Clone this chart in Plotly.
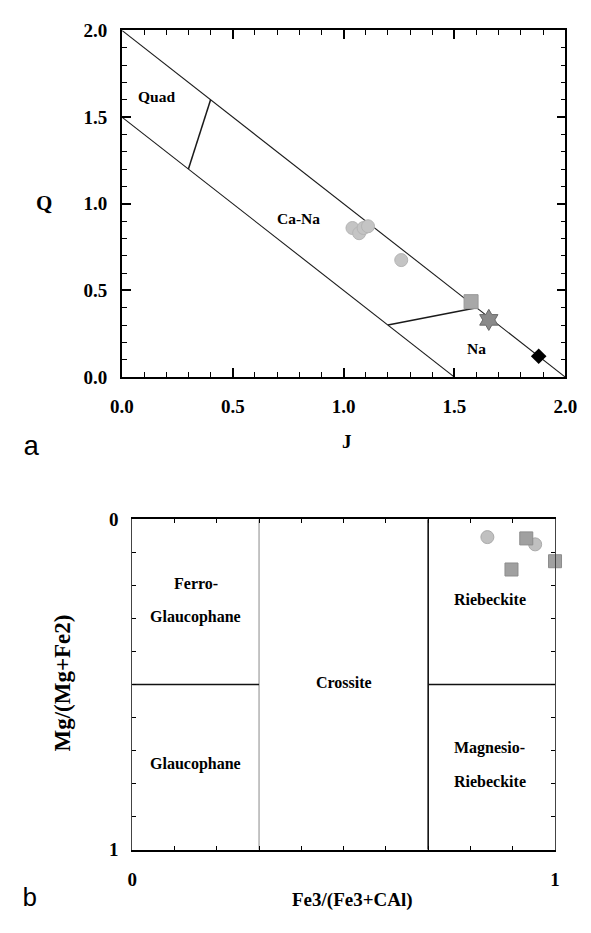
import plotly.graph_objects as go

# ---------------- Panel a : Q-J diagram ----------------
upper_J = [0.0, 2.0]
upper_Q = [2.0, 0.0]
lower_J = [0.0, 1.5]
lower_Q = [1.5, 0.0]
quad_J = [0.3, 0.4]
quad_Q = [1.2, 1.6]
na_J = [1.2, 1.6]
na_Q = [0.3, 0.4]

circle_J = [1.04, 1.07, 1.09, 1.11, 1.26]
circle_Q = [0.86, 0.83, 0.86, 0.87, 0.675]
square_J = [1.575]
square_Q = [0.435]
star_J = [1.655]
star_Q = [0.33]
diamond_J = [1.88]
diamond_Q = [0.12]

a_tickvals = [0.0, 0.5, 1.0, 1.5, 2.0]
a_ticktext = ["0.0", "0.5", "1.0", "1.5", "2.0"]
a_labels = ["Quad", "Ca-Na", "Na"]
a_label_J = [0.155, 0.795, 1.60]
a_label_Q = [1.62, 0.915, 0.162]

# ---------------- Panel b : sodic amphibole diagram ----------------
vline1_x = [0.3, 0.3]
vline1_y = [0.0, 1.0]
vline2_x = [0.7, 0.7]
vline2_y = [0.0, 1.0]
hline_left_x = [0.0, 0.3]
hline_right_x = [0.7, 1.0]
hline_y = [0.5, 0.5]

b_circle_x = [0.84, 0.953]
b_circle_y = [0.054, 0.076]
b_square_x = [0.932, 0.897, 1.0]
b_square_y = [0.058, 0.152, 0.127]

b_tickvals = [0, 1]
b_ticktext = ["0", "1"]
b_labels = ["Ferro-", "Glaucophane", "Glaucophane", "Crossite", "Riebeckite", "Magnesio-", "Riebeckite"]
b_label_x = [0.15, 0.15, 0.15, 0.5, 0.846, 0.846, 0.846]
b_label_y = [0.194, 0.295, 0.741, 0.495, 0.243, 0.692, 0.792]

SERIF = "Liberation Serif"

fig = go.Figure()

def line(x, y, xa, ya, color="#1a1a1a", width=1.2):
    fig.add_trace(go.Scatter(x=x, y=y, mode="lines", xaxis=xa, yaxis=ya,
                             line=dict(color=color, width=width), hoverinfo="skip"))

# panel a boundaries
line(upper_J, upper_Q, "x", "y", width=1.1)
line(lower_J, lower_Q, "x", "y", width=1.1)
line(quad_J, quad_Q, "x", "y", width=1.5)
line(na_J, na_Q, "x", "y", width=1.5)

# panel a markers
fig.add_trace(go.Scatter(x=circle_J, y=circle_Q, mode="markers", xaxis="x", yaxis="y",
                         marker=dict(symbol="circle", size=13, color="#c4c4c4",
                                     line=dict(color="#b4b4b4", width=1)), cliponaxis=False))
fig.add_trace(go.Scatter(x=square_J, y=square_Q, mode="markers", xaxis="x", yaxis="y",
                         marker=dict(symbol="square", size=14, color="#a8a8a8",
                                     line=dict(color="#989898", width=1)), cliponaxis=False))
fig.add_trace(go.Scatter(x=star_J, y=star_Q, mode="markers", xaxis="x", yaxis="y",
                         marker=dict(symbol="hexagram", size=16, color="#8a8a8a",
                                     line=dict(color="#6a6a6a", width=1)), cliponaxis=False))
fig.add_trace(go.Scatter(x=diamond_J, y=diamond_Q, mode="markers", xaxis="x", yaxis="y",
                         marker=dict(symbol="diamond", size=12, color="#000000"), cliponaxis=False))

# panel b boundaries
line(vline1_x, vline1_y, "x2", "y2", color="#8a8a8a", width=1.0)
line(vline2_x, vline2_y, "x2", "y2", color="#111111", width=1.6)
line(hline_left_x, hline_y, "x2", "y2", color="#111111", width=1.6)
line(hline_right_x, hline_y, "x2", "y2", color="#111111", width=1.6)

# panel b markers
fig.add_trace(go.Scatter(x=b_circle_x, y=b_circle_y, mode="markers", xaxis="x2", yaxis="y2",
                         marker=dict(symbol="circle", size=13, color="#c0c0c0",
                                     line=dict(color="#aaaaaa", width=1)), cliponaxis=False))
fig.add_trace(go.Scatter(x=b_square_x, y=b_square_y, mode="markers", xaxis="x2", yaxis="y2",
                         marker=dict(symbol="square", size=13, color="#a0a0a0",
                                     line=dict(color="#8c8c8c", width=1)), cliponaxis=False))

tickfont = dict(family=SERIF, size=19, color="black", weight="bold")

axis_common = dict(showgrid=False, zeroline=False, showline=True, linecolor="black",
                   ticks="inside", tickcolor="black", mirror="ticks", tickfont=tickfont)

# figure is 583x917 so that, with the page's 8px body margin, it fills the 591x933 window
fig.update_layout(
    width=583, height=917,
    margin=dict(l=0, r=0, t=0, b=0),
    paper_bgcolor="white", plot_bgcolor="white",
    showlegend=False,
    xaxis=dict(domain=[0.18233, 0.97547], range=[0, 2], anchor="y",
               tickvals=a_tickvals, ticktext=a_ticktext, ticklen=9, tickwidth=1.5,
               linewidth=1.5, ticklabelstandoff=11,
               minor=dict(dtick=0.1, ticks="inside", ticklen=5, tickcolor="black", tickwidth=1.2),
               **axis_common),
    yaxis=dict(domain=[0.59924, 0.98615], range=[0, 2], anchor="x",
               tickvals=a_tickvals, ticktext=a_ticktext, ticklen=9, tickwidth=1.5,
               linewidth=1.5, ticklabelstandoff=9,
               minor=dict(dtick=0.1, ticks="inside", ticklen=5, tickcolor="black", tickwidth=1.2),
               **axis_common),
    xaxis2=dict(domain=[0.20069, 0.95712], range=[0, 1], anchor="y2",
                tickvals=b_tickvals, ticktext=b_ticktext, ticklen=4, tickwidth=1.2,
                linewidth=2.2, ticklabelstandoff=11,
                minor=dict(dtick=0.1, ticks="inside", ticklen=4, tickcolor="black", tickwidth=1.2),
                **axis_common),
    yaxis2=dict(domain=[0.07164, 0.44057], range=[1, 0], anchor="x2",
                tickvals=b_tickvals, ticktext=b_ticktext, ticklen=4, tickwidth=1.2,
                linewidth=1.0, ticklabelstandoff=9,
                minor=dict(dtick=0.1, ticks="inside", ticklen=4, tickcolor="black", tickwidth=1.2),
                **{**axis_common, "linecolor": "#444444"}),
)

annotations = []
for t, xv, yv in zip(a_labels, a_label_J, a_label_Q):
    annotations.append(dict(text=t, x=xv, y=yv, xref="x", yref="y", showarrow=False,
                            font=dict(family=SERIF, size=15.5, color="black", weight="bold")))
for t, xv, yv in zip(b_labels, b_label_x, b_label_y):
    annotations.append(dict(text=t, x=xv, y=yv, xref="x2", yref="y2", showarrow=False,
                            font=dict(family=SERIF, size=16, color="black", weight="bold")))

titles = [
    dict(text="Q", x=0.0432, y=0.7931, size=21, angle=0),
    dict(text="J", x=0.5849, y=0.5270, size=19, angle=0),
    dict(text="Mg/(Mg+Fe2)", x=0.0755, y=0.2574, size=23, angle=-90),
    dict(text="Fe3/(Fe3+CAl)", x=0.5947, y=0.0153, size=19, angle=0),
]
for t in titles:
    annotations.append(dict(text=t["text"], x=t["x"], y=t["y"], xref="paper", yref="paper",
                            showarrow=False, textangle=t["angle"], xanchor="center", yanchor="middle",
                            font=dict(family=SERIF, size=t["size"], color="black", weight="bold")))

annotations.append(dict(text="a", x=0.0206, y=0.5207, xref="paper", yref="paper", showarrow=False,
                        xanchor="center", yanchor="middle",
                        font=dict(family="Liberation Mono", size=28, color="black")))
annotations.append(dict(text="b", x=0.0, y=0.0163, xref="paper", yref="paper", showarrow=False,
                        xanchor="left", yanchor="middle",
                        font=dict(family="Liberation Mono", size=26, color="black")))

fig.update_layout(annotations=annotations)

fig.write_html("out.html")
